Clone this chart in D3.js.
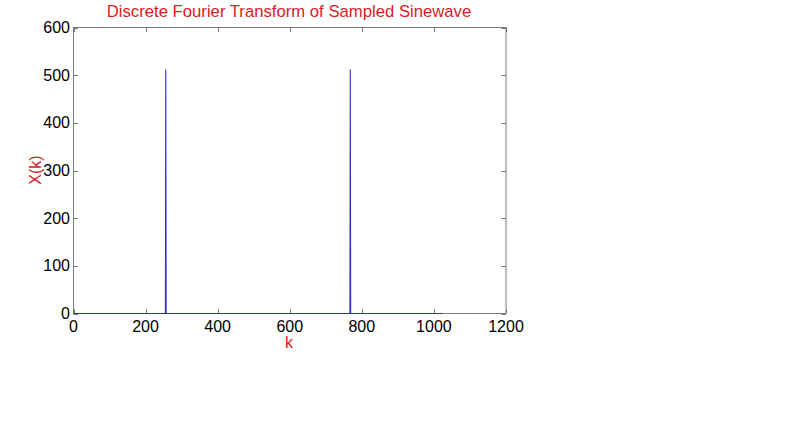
<!DOCTYPE html>
<html><head><meta charset="utf-8">
<script src="https://cdn.jsdelivr.net/npm/d3@7"></script>
<style>body{margin:0;background:#fff;}svg{display:block;}text{font-family:"Liberation Sans",Arial,sans-serif;}</style>
</head><body>
<svg id="c" width="800" height="447"></svg>
<script>
// Data: DFT magnitude |X(k)|, zero except at the two sinewave bins
const kValues = [0, 255, 256, 257, 767, 768, 769, 1023];
const magnitude = [0, 0, 512, 0, 0, 512, 0, 0];
const xTicks = [0, 200, 400, 600, 800, 1000, 1200];
const yTicks = [0, 100, 200, 300, 400, 500, 600];
const titleText = "Discrete Fourier Transform of Sampled Sinewave";
const xLabel = "k";
const yLabel = "X(k)";

const svg = d3.select("#c");
const L = 73.5, R = 506, T = 27.5, B = 313.5;
const x = d3.scaleLinear().domain([0, 1200]).range([L, R]);
const y = d3.scaleLinear().domain([0, 600]).range([B, T]);
const axisColor = "#7a7a84";
const red = "#dc1a24";
const tl = 4.5;

// box
svg.append("rect").attr("x", L).attr("y", T).attr("width", R - L).attr("height", B - T)
  .attr("fill", "#fff").attr("stroke", axisColor).attr("stroke-width", 1);

// ticks (inward, all four sides)
const g = svg.append("g").attr("stroke", axisColor).attr("stroke-width", 1);
xTicks.forEach(v => {
  const px = Math.round(x(v)) + 0.5;
  g.append("line").attr("x1", px).attr("x2", px).attr("y1", B).attr("y2", B - tl);
  g.append("line").attr("x1", px).attr("x2", px).attr("y1", T).attr("y2", T + tl);
});
yTicks.forEach(v => {
  const py = Math.round(y(v)) + 0.5;
  g.append("line").attr("x1", L).attr("x2", L + tl).attr("y1", py).attr("y2", py);
  g.append("line").attr("x1", R).attr("x2", R - tl).attr("y1", py).attr("y2", py);
});

// data line
const line = d3.line().x((d, i) => x(kValues[i])).y(d => y(d));
svg.append("path").datum(magnitude).attr("d", line)
  .attr("fill", "none").attr("stroke", "#3030c8").attr("stroke-width", 1.1);

// tick labels
svg.append("g").selectAll("text").data(xTicks).join("text")
  .attr("x", d => x(d)).attr("y", 332).attr("text-anchor", "middle")
  .attr("font-size", 16).attr("fill", "#000").text(d => d);
svg.append("g").selectAll("text").data(yTicks).join("text")
  .attr("x", 70).attr("y", d => y(d) + 5.5).attr("text-anchor", "end")
  .attr("font-size", 16).attr("fill", "#000").text(d => d);

// title and axis labels
svg.append("text").attr("x", 289).attr("y", 16.5).attr("text-anchor", "middle")
  .attr("font-size", 16.7).attr("fill", red).text(titleText);
svg.append("text").attr("x", 289).attr("y", 348).attr("text-anchor", "middle")
  .attr("font-size", 16).attr("fill", red).text(xLabel);
svg.append("text").attr("transform", "translate(41,170) rotate(-90)").attr("text-anchor", "middle")
  .attr("font-size", 16).attr("fill", red).text(yLabel);
</script>
</body></html>
